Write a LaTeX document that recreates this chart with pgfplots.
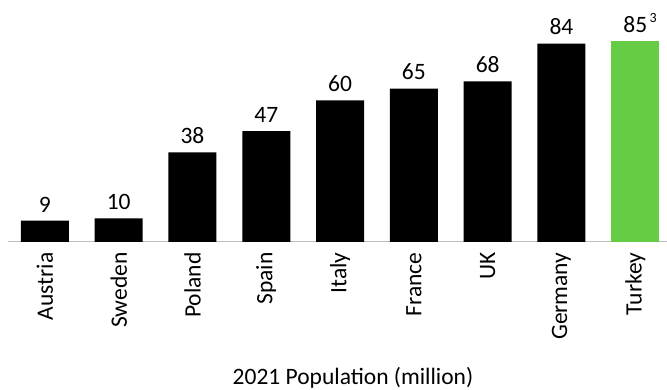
\documentclass[border=0pt]{standalone}
\usepackage{pgfplots}
\pgfplotsset{compat=1.18}
\usepackage{fontspec}
\setmainfont{Carlito}
\definecolor{turkeygreen}{RGB}{102,204,68}
\definecolor{axisgray}{RGB}{191,191,191}
\begin{document}
\begin{tikzpicture}
\useasboundingbox (-8pt,-148pt) rectangle (659pt,242pt);
\begin{axis}[
  at={(0pt,0pt)}, anchor=south west,
  scale only axis, width=659pt, height=242pt,
  xmin=-0.5, xmax=8.43, ymin=0, ymax=102.5,
  axis x line=bottom, axis y line=none,
  x axis line style={axisgray, line width=1pt, -},
  xtick={0,...,8},
  xticklabels={Austria,Sweden,Poland,Spain,Italy,France,UK,Germany,Turkey},
  major tick length=0pt,
  /pgf/number format/assume math mode=true,
  xticklabel style={rotate=90, anchor=east, font=\fontsize{23.5}{28}\selectfont, xshift=-7pt},
  xlabel={2021 Population (million)},
  xlabel style={font=\fontsize{23.5}{28}\selectfont, at={(axis description cs:0.5235,0)}, anchor=center, yshift=-136pt},
  ybar, bar width=48pt, bar shift=0pt,
  clip=false,
  nodes near coords,
  every node near coord/.append style={font=\fontsize{23.5}{28}\selectfont, yshift=5pt},
]
\addplot[fill=black, draw=none] coordinates {(0,9) (1,10) (2,38) (3,47) (4,60) (5,65) (6,68) (7,84)};
\addplot[fill=turkeygreen, draw=none, nodes near coords={85\rlap{\raisebox{0.45em}{\fontsize{14}{16}\selectfont\,3}}}] coordinates {(8,85)};
\end{axis}
\end{tikzpicture}
\end{document}
